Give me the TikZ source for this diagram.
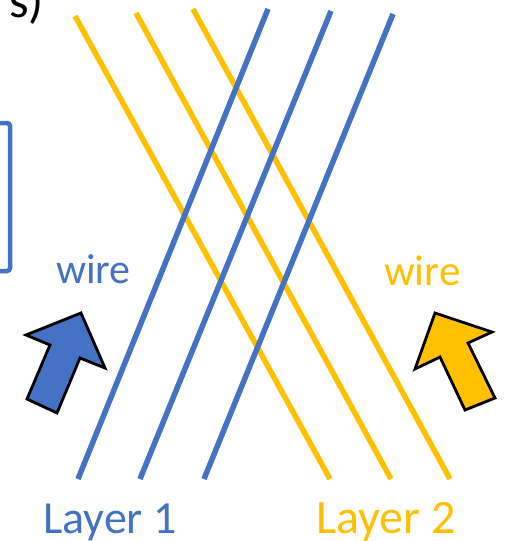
\documentclass[tikz,border=0pt]{standalone}
\usepackage{fontspec}
\setmainfont{Carlito}
\definecolor{oblue}{HTML}{4472C4}
\definecolor{oyellow}{HTML}{FFC000}
\begin{document}
\begin{tikzpicture}[x=1pt,y=-1pt,
  bluewire/.style={draw=oblue,line width=5.5pt},
  yellowwire/.style={draw=oyellow,line width=5.5pt},
  bigarrow/.style={draw=black,line width=2.8pt,line join=miter},
  lbl/.style={inner sep=0pt,anchor=base west}]
\useasboundingbox (0,0) rectangle (504,541);
\clip (0,0) rectangle (504,541);
% label s)
\node[lbl,font=\fontsize{50}{50}\selectfont] (s) at (9,17) {s)};
% bracket
\draw[draw=oblue,line width=4.5pt,rounded corners=3pt] (-30,123) rectangle (10,271);
% yellow wires
\coordinate (y1a) at (75,16);  \coordinate (y1b) at (330,479);
\coordinate (y2a) at (136,13); \coordinate (y2b) at (391,479);
\coordinate (y3a) at (193,9);  \coordinate (y3b) at (450,479);
\draw[yellowwire] (y1a) -- (y1b);
\draw[yellowwire] (y2a) -- (y2b);
\draw[yellowwire] (y3a) -- (y3b);
% blue wires
\coordinate (b1a) at (78,479);  \coordinate (b1b) at (268,9);
\coordinate (b2a) at (140,479); \coordinate (b2b) at (331,11);
\coordinate (b3a) at (204,479); \coordinate (b3b) at (393,14);
\draw[bluewire] (b1a) -- (b1b);
\draw[bluewire] (b2a) -- (b2b);
\draw[bluewire] (b3a) -- (b3b);
% arrows
\filldraw[bigarrow,fill=oblue] (81,313) -- (105,368) -- (80,358) -- (57,413) -- (27,399) -- (50,345) -- (26,335) -- cycle;
\filldraw[bigarrow,fill=oyellow] (435,313) -- (492,332) -- (468,343) -- (495,398) -- (465,410) -- (440,357) -- (415,369) -- cycle;
% texts
\node[lbl,text=oblue,font=\fontsize{42}{42}\selectfont] (w1) at (56,283) {wire};
\node[lbl,text=oyellow,font=\fontsize{43}{43}\selectfont] (w2) at (384,285) {wire};
\node[lbl,text=oblue,font=\fontsize{46}{46}\selectfont] (l1) at (43,533) {Layer 1};
\node[lbl,text=oyellow,font=\fontsize{48}{48}\selectfont] (l2) at (316,533) {Layer 2};
\end{tikzpicture}
\end{document}
